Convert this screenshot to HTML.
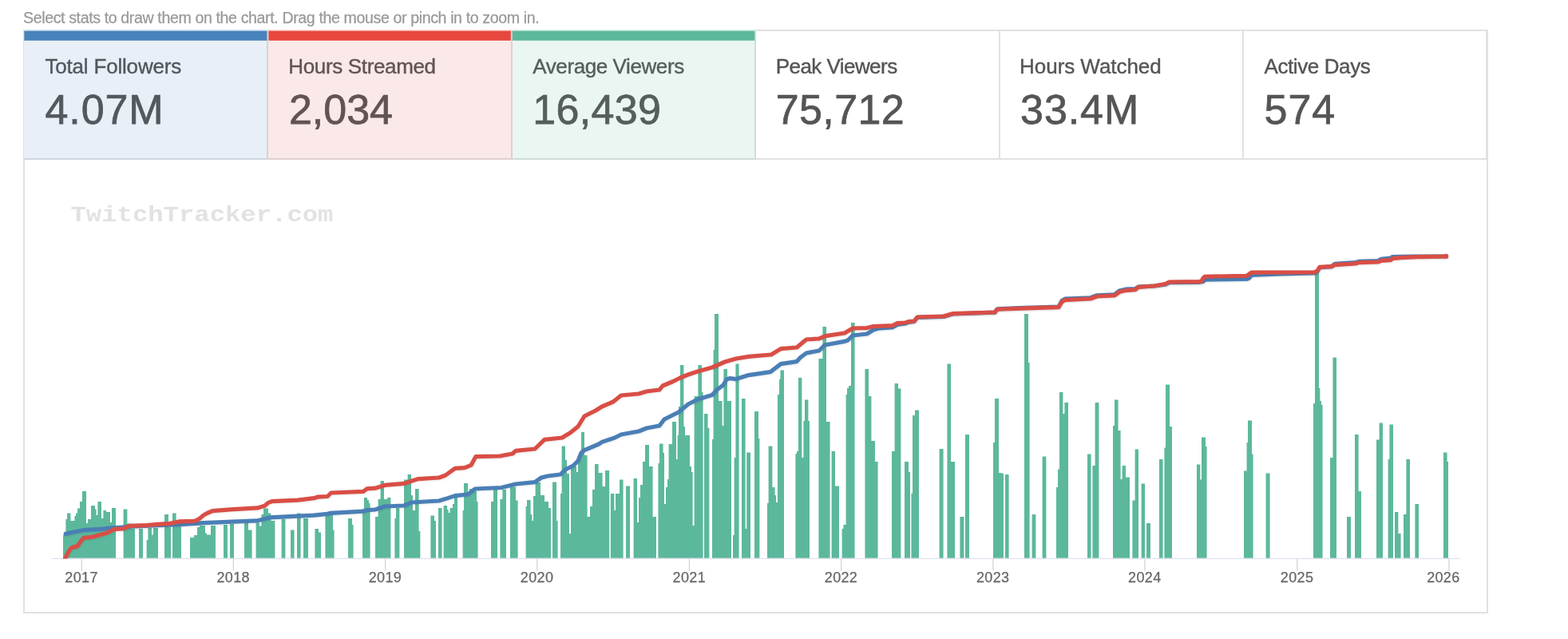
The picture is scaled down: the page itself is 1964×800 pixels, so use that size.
<!DOCTYPE html>
<html lang="en"><head><meta charset="utf-8"><title>Channel stats</title>
<style>
html,body{margin:0;padding:0;background:#fff}
body{width:1964px;height:800px;position:relative;overflow:hidden;font-family:"Liberation Sans",Arial,Helvetica,sans-serif;color:#555}
.hint{position:absolute;left:29px;top:10.2px;font-size:19.6px;line-height:24px;color:#999;white-space:nowrap;letter-spacing:-0.385px;-webkit-text-stroke:0.25px #999}
.panel{position:absolute;left:29px;top:37px;width:1831px;height:727px;border:2px solid #e1e1e1;background:#fff}
.card{position:absolute;top:39px;height:159px;border-right:2px solid #e1e1e1;border-bottom:2px solid #e1e1e1;box-sizing:content-box}
.card.b{background:#e9eff7;border-color:#cfd6de}
.card.r{background:#fbe9e9;border-color:#e0cfcf}
.card.g{background:#eaf6f2;border-color:#cfdcd8}
.lab{position:absolute;left:25.5px;top:28px;font-size:26px;line-height:32px;white-space:nowrap;color:#555;-webkit-text-stroke:0.4px currentColor}
.val{position:absolute;left:25.5px;top:66px;font-size:52px;line-height:64px;white-space:nowrap;color:#555;-webkit-text-stroke:0.75px currentColor}
.card.b .lab,.card.b .val{color:#52585e}
.card.r .lab,.card.r .val{color:#625453}
.card.g .lab,.card.g .val{color:#555e5b}
svg{position:absolute;left:0;top:0}
svg text{font-family:"Liberation Sans",Arial,Helvetica,sans-serif;font-size:18px;fill:#666;letter-spacing:0.35px;stroke:#666;stroke-width:0.25px}
svg text.wm{font-family:"Liberation Mono","DejaVu Sans Mono",monospace;font-weight:bold;font-size:32px;fill:#e2e2e2;letter-spacing:0;stroke:none}
</style></head>
<body>
<div class="hint">Select stats to draw them on the chart. Drag the mouse or pinch in to zoom in.</div>
<div class="panel"></div>
<div class="card b" style="left:30.2px;width:304.2px"><div class="lab" style="letter-spacing:-0.19px;margin-left:0.8px">Total Followers</div><div class="val" style="letter-spacing:0.90px;margin-left:0.8px">4.07M</div></div>
<div class="card r" style="left:336.4px;width:303.4px"><div class="lab" style="letter-spacing:-0.35px;margin-left:-0.6px">Hours Streamed</div><div class="val" style="letter-spacing:0.00px;margin-left:0.0px">2,034</div></div>
<div class="card g" style="left:641.8px;width:303.4px"><div class="lab" style="letter-spacing:-0.41px;margin-left:0.0px">Average Viewers</div><div class="val" style="letter-spacing:0.30px;margin-left:0.0px">16,439</div></div>
<div class="card " style="left:947.2px;width:303.4px"><div class="lab" style="letter-spacing:-0.55px;margin-left:-1.0px">Peak Viewers</div><div class="val" style="letter-spacing:0.40px;margin-left:-1.0px">75,712</div></div>
<div class="card " style="left:1252.6px;width:303.4px"><div class="lab" style="letter-spacing:-0.05px;margin-left:-1.0px">Hours Watched</div><div class="val" style="letter-spacing:0.90px;margin-left:0.0px">33.4M</div></div>
<div class="card " style="left:1558.0px;width:303.4px"><div class="lab" style="letter-spacing:-0.40px;margin-left:0.0px">Active Days</div><div class="val" style="letter-spacing:1.00px;margin-left:0.0px">574</div></div>
<svg width="1964" height="800" viewBox="0 0 1964 800">
<rect x="30.3" y="37" width="304.1" height="2" fill="#d6e4f3"/><rect x="30.3" y="38.7" width="304.1" height="12.1" fill="#4983bb"/><rect x="336.4" y="37" width="303.4" height="2" fill="#fbd7d4"/><rect x="336.4" y="38.7" width="303.4" height="12.1" fill="#e7473f"/><rect x="641.8" y="37" width="303.4" height="2" fill="#d8f0e8"/><rect x="641.8" y="38.7" width="303.4" height="12.1" fill="#5cb89b"/>
<defs><clipPath id="plot"><rect x="60" y="200" width="1780" height="499.6"/></clipPath></defs>
<g transform="translate(88.5 276.5) scale(1.008 0.878)"><text class="wm" x="0" y="0">TwitchTracker.com</text></g>
<path fill="#5cb89c" d="M79.0 698.8V670.0H82.4V698.8ZM82.4 698.8V650.0H84.0V698.8ZM84.0 698.8V642.4H88.4V698.8ZM88.4 698.8V652.0H93.4V698.8ZM93.4 698.8V646.0H95.0V698.8ZM95.0 698.8V642.4H97.0V698.8ZM97.0 698.8V636.4H100.0V698.8ZM100.0 698.8V628.0H103.0V698.8ZM103.0 698.8V615.0H108.0V698.8ZM108.0 698.8V655.0H110.0V698.8ZM110.0 698.8V650.0H114.0V698.8ZM114.0 698.8V633.0H119.0V698.8ZM119.0 698.8V637.6H120.6V698.8ZM120.6 698.8V645.0H122.4V698.8ZM122.4 698.8V628.0H127.0V698.8ZM127.0 698.8V649.0H129.4V698.8ZM129.4 698.8V639.0H133.0V698.8ZM133.0 698.8V641.0H138.0V698.8ZM138.0 698.8V654.0H140.0V698.8ZM140.0 698.8V636.0H145.0V698.8ZM154.6 698.8V637.4H159.4V698.8ZM159.4 698.8V655.4H164.0V698.8ZM164.0 698.8V662.0H169.0V698.8ZM174.0 698.8V662.0H179.0V698.8ZM183.6 698.8V676.0H185.4V698.8ZM185.4 698.8V661.0H190.0V698.8ZM190.0 698.8V669.4H192.0V698.8ZM192.0 698.8V661.0H198.0V698.8ZM206.0 698.8V644.0H211.0V698.8ZM211.0 698.8V660.0H214.0V698.8ZM216.0 698.8V642.4H220.6V698.8ZM220.6 698.8V659.0H227.0V698.8ZM238.0 698.8V673.0H243.0V698.8ZM243.0 698.8V670.0H247.0V698.8ZM247.0 698.8V660.0H250.0V698.8ZM250.0 698.8V658.0H257.0V698.8ZM257.0 698.8V667.4H259.0V698.8ZM259.0 698.8V669.4H264.0V698.8ZM264.0 698.8V658.0H270.0V698.8ZM280.0 698.8V657.0H285.0V698.8ZM288.0 698.8V656.0H293.0V698.8ZM306.0 698.8V655.0H311.0V698.8ZM311.0 698.8V663.4H315.6V698.8ZM320.6 698.8V654.6H325.0V698.8ZM325.0 698.8V658.6H327.4V698.8ZM327.4 698.8V644.0H330.0V698.8ZM330.0 698.8V636.4H336.0V698.8ZM336.0 698.8V642.4H339.4V698.8ZM339.4 698.8V652.0H344.4V698.8ZM352.6 698.8V650.0H357.4V698.8ZM364.0 698.8V663.4H368.6V698.8ZM372.0 698.8V642.4H376.6V698.8ZM380.0 698.8V649.0H386.0V698.8ZM394.4 698.8V662.0H399.0V698.8ZM399.0 698.8V666.6H402.0V698.8ZM407.4 698.8V644.0H417.0V698.8ZM417.0 698.8V663.4H418.6V698.8ZM436.0 698.8V649.0H441.0V698.8ZM441.0 698.8V657.0H442.6V698.8ZM454.0 698.8V637.0H456.0V698.8ZM456.0 698.8V623.0H460.0V698.8ZM460.0 698.8V626.0H462.0V698.8ZM462.0 698.8V630.0H463.6V698.8ZM470.0 698.8V647.0H473.6V698.8ZM473.6 698.8V625.0H476.6V698.8ZM476.6 698.8V602.0H481.0V698.8ZM481.0 698.8V625.0H485.0V698.8ZM485.0 698.8V623.0H489.4V698.8ZM494.4 698.8V649.0H496.0V698.8ZM496.0 698.8V636.0H500.4V698.8ZM506.0 698.8V600.6H510.6V698.8ZM510.6 698.8V594.0H515.0V698.8ZM515.0 698.8V620.0H517.0V698.8ZM517.0 698.8V639.0H520.0V698.8ZM520.0 698.8V612.0H524.6V698.8ZM524.6 698.8V665.0H526.4V698.8ZM539.4 698.8V645.6H544.0V698.8ZM544.0 698.8V652.0H546.0V698.8ZM549.0 698.8V636.0H553.6V698.8ZM555.6 698.8V633.0H560.0V698.8ZM560.0 698.8V638.0H561.6V698.8ZM561.6 698.8V642.0H563.6V698.8ZM563.6 698.8V636.0H567.0V698.8ZM567.0 698.8V631.0H569.0V698.8ZM569.0 698.8V623.0H573.0V698.8ZM579.6 698.8V639.0H581.0V698.8ZM581.0 698.8V605.0H586.0V698.8ZM586.0 698.8V621.0H588.0V698.8ZM588.0 698.8V612.0H592.4V698.8ZM592.4 698.8V615.0H597.0V698.8ZM597.0 698.8V628.0H598.6V698.8ZM615.0 698.8V628.0H618.0V698.8ZM618.0 698.8V613.0H623.0V698.8ZM626.4 698.8V625.0H629.4V698.8ZM629.4 698.8V613.0H634.0V698.8ZM639.0 698.8V609.4H646.0V698.8ZM646.0 698.8V626.6H648.6V698.8ZM658.6 698.8V634.0H660.0V698.8ZM660.0 698.8V626.0H664.6V698.8ZM664.6 698.8V644.0H666.4V698.8ZM666.4 698.8V652.0H668.0V698.8ZM668.0 698.8V621.0H670.6V698.8ZM670.6 698.8V604.0H677.0V698.8ZM677.0 698.8V620.0H682.0V698.8ZM682.0 698.8V628.0H687.0V698.8ZM687.0 698.8V636.0H690.0V698.8ZM692.0 698.8V603.6H697.0V698.8ZM697.0 698.8V652.0H698.6V698.8ZM702.0 698.8V618.0H703.6V698.8ZM703.6 698.8V558.6H708.0V698.8ZM708.0 698.8V576.0H710.0V698.8ZM710.0 698.8V593.0H713.0V698.8ZM713.0 698.8V668.0H715.0V698.8ZM715.0 698.8V584.0H722.0V698.8ZM722.0 698.8V591.0H724.0V698.8ZM724.0 698.8V575.0H728.0V698.8ZM728.0 698.8V541.0H732.0V698.8ZM732.0 698.8V570.0H735.6V698.8ZM735.6 698.8V647.0H739.0V698.8ZM739.0 698.8V634.0H742.0V698.8ZM742.0 698.8V613.0H745.0V698.8ZM745.0 698.8V581.0H749.6V698.8ZM749.6 698.8V592.0H754.6V698.8ZM754.6 698.8V609.0H758.0V698.8ZM758.0 698.8V589.0H763.2V698.8ZM764.8 698.8V618.0H769.4V698.8ZM769.4 698.8V639.0H771.0V698.8ZM771.0 698.8V618.0H776.0V698.8ZM776.0 698.8V600.6H780.6V698.8ZM784.0 698.8V608.6H789.0V698.8ZM793.6 698.8V599.0H798.0V698.8ZM798.0 698.8V654.0H800.0V698.8ZM800.0 698.8V623.0H802.0V698.8ZM802.0 698.8V607.0H805.0V698.8ZM805.0 698.8V578.0H808.0V698.8ZM808.0 698.8V557.0H813.0V698.8ZM813.0 698.8V584.0H817.6V698.8ZM817.6 698.8V647.0H822.0V698.8ZM824.4 698.8V580.0H826.0V698.8ZM826.0 698.8V555.4H830.6V698.8ZM830.6 698.8V567.0H832.0V698.8ZM832.0 698.8V631.0H834.0V698.8ZM834.0 698.8V610.0H836.0V698.8ZM836.0 698.8V600.0H837.6V698.8ZM837.6 698.8V556.0H842.0V698.8ZM842.0 698.8V528.0H847.0V698.8ZM847.0 698.8V575.0H848.6V698.8ZM848.6 698.8V545.0H850.0V698.8ZM850.0 698.8V509.0H852.0V698.8ZM852.0 698.8V457.0H856.4V698.8ZM856.4 698.8V534.0H858.0V698.8ZM858.0 698.8V545.0H862.0V698.8ZM862.0 698.8V545.0H864.0V698.8ZM864.0 698.8V584.0H866.0V698.8ZM866.0 698.8V591.0H867.6V698.8ZM867.6 698.8V658.0H869.6V698.8ZM869.6 698.8V496.0H874.4V698.8ZM874.4 698.8V457.0H879.0V698.8ZM879.0 698.8V491.0H880.6V698.8ZM882.0 698.8V518.0H886.6V698.8ZM886.6 698.8V536.0H888.4V698.8ZM892.0 698.8V550.0H893.6V698.8ZM893.6 698.8V438.0H895.0V698.8ZM895.0 698.8V393.0H900.0V698.8ZM900.0 698.8V502.0H904.6V698.8ZM904.6 698.8V533.0H906.4V698.8ZM906.4 698.8V462.0H911.0V698.8ZM911.0 698.8V502.0H916.0V698.8ZM918.0 698.8V670.0H919.6V698.8ZM919.6 698.8V573.0H921.4V698.8ZM921.4 698.8V455.4H925.6V698.8ZM929.0 698.8V499.0H933.6V698.8ZM933.6 698.8V662.0H935.2V698.8ZM935.2 698.8V566.6H940.0V698.8ZM945.0 698.8V515.0H950.0V698.8ZM950.0 698.8V549.0H951.4V698.8ZM961.0 698.8V630.0H962.6V698.8ZM962.6 698.8V558.6H967.4V698.8ZM967.4 698.8V610.0H970.6V698.8ZM970.6 698.8V620.0H972.0V698.8ZM972.0 698.8V629.0H974.0V698.8ZM974.0 698.8V494.0H976.0V698.8ZM976.0 698.8V475.0H977.4V698.8ZM977.4 698.8V463.6H982.0V698.8ZM996.4 698.8V568.0H998.0V698.8ZM998.0 698.8V565.0H1000.0V698.8ZM1000.0 698.8V473.0H1004.4V698.8ZM1004.4 698.8V573.0H1006.4V698.8ZM1006.4 698.8V527.0H1008.0V698.8ZM1008.0 698.8V500.6H1012.4V698.8ZM1012.4 698.8V527.0H1014.0V698.8ZM1025.4 698.8V449.0H1030.4V698.8ZM1030.4 698.8V409.0H1035.0V698.8ZM1035.0 698.8V528.0H1039.6V698.8ZM1041.6 698.8V565.0H1046.0V698.8ZM1046.0 698.8V608.6H1051.0V698.8ZM1054.6 698.8V662.0H1056.4V698.8ZM1056.4 698.8V657.0H1059.6V698.8ZM1059.6 698.8V494.0H1061.0V698.8ZM1061.0 698.8V486.0H1063.0V698.8ZM1063.0 698.8V483.0H1066.0V698.8ZM1066.0 698.8V404.0H1070.6V698.8ZM1083.4 698.8V462.0H1088.0V698.8ZM1088.0 698.8V496.0H1091.4V698.8ZM1091.4 698.8V552.0H1096.0V698.8ZM1096.0 698.8V578.0H1099.6V698.8ZM1117.0 698.8V565.0H1120.6V698.8ZM1120.6 698.8V480.0H1125.0V698.8ZM1125.0 698.8V486.6H1128.4V698.8ZM1133.0 698.8V578.0H1138.0V698.8ZM1138.0 698.8V591.0H1140.0V698.8ZM1141.4 698.8V618.0H1143.0V698.8ZM1143.0 698.8V520.0H1146.0V698.8ZM1146.0 698.8V513.6H1151.0V698.8ZM1176.6 698.8V562.0H1181.6V698.8ZM1186.4 698.8V455.6H1191.0V698.8ZM1191.0 698.8V578.0H1196.0V698.8ZM1202.4 698.8V647.0H1207.4V698.8ZM1209.0 698.8V544.0H1214.0V698.8ZM1244.0 698.8V554.0H1246.0V698.8ZM1246.0 698.8V499.0H1251.0V698.8ZM1251.0 698.8V592.0H1254.0V698.8ZM1254.0 698.8V592.4H1257.0V698.8ZM1259.0 698.8V594.0H1263.6V698.8ZM1283.0 698.8V393.0H1288.0V698.8ZM1288.0 698.8V454.0H1289.6V698.8ZM1292.6 698.8V644.0H1297.4V698.8ZM1305.6 698.8V571.4H1310.4V698.8ZM1323.0 698.8V610.0H1325.0V698.8ZM1325.0 698.8V587.6H1327.0V698.8ZM1327.0 698.8V491.0H1331.4V698.8ZM1331.4 698.8V518.0H1333.4V698.8ZM1333.4 698.8V504.0H1338.0V698.8ZM1362.0 698.8V568.4H1366.6V698.8ZM1368.4 698.8V583.0H1371.6V698.8ZM1371.6 698.8V504.0H1376.4V698.8ZM1394.0 698.8V533.0H1396.0V698.8ZM1396.0 698.8V500.6H1400.6V698.8ZM1400.6 698.8V539.0H1403.6V698.8ZM1403.6 698.8V600.0H1405.6V698.8ZM1405.6 698.8V583.0H1410.0V698.8ZM1410.0 698.8V597.4H1415.0V698.8ZM1418.4 698.8V626.4H1421.6V698.8ZM1421.6 698.8V562.4H1426.0V698.8ZM1429.6 698.8V605.4H1434.0V698.8ZM1436.0 698.8V655.0H1441.0V698.8ZM1452.0 698.8V575.0H1456.6V698.8ZM1458.4 698.8V560.6H1460.0V698.8ZM1460.0 698.8V481.4H1465.0V698.8ZM1465.0 698.8V534.0H1468.0V698.8ZM1499.0 698.8V581.4H1503.4V698.8ZM1503.4 698.8V600.6H1505.0V698.8ZM1505.0 698.8V547.4H1510.0V698.8ZM1510.0 698.8V559.0H1511.6V698.8ZM1558.0 698.8V589.4H1561.6V698.8ZM1561.6 698.8V554.0H1563.0V698.8ZM1563.0 698.8V526.4H1568.0V698.8ZM1568.0 698.8V568.6H1569.6V698.8ZM1585.6 698.8V592.4H1590.6V698.8ZM1645.0 698.8V505.0H1647.0V698.8ZM1647.0 698.8V342.0H1652.0V698.8ZM1652.0 698.8V486.0H1653.4V698.8ZM1653.4 698.8V502.0H1655.0V698.8ZM1655.0 698.8V507.0H1656.6V698.8ZM1666.0 698.8V573.0H1669.4V698.8ZM1669.4 698.8V447.6H1674.0V698.8ZM1687.0 698.8V647.0H1692.0V698.8ZM1697.0 698.8V544.0H1701.6V698.8ZM1701.6 698.8V615.0H1705.0V698.8ZM1724.0 698.8V550.6H1727.6V698.8ZM1727.6 698.8V529.6H1732.0V698.8ZM1738.6 698.8V575.0H1740.4V698.8ZM1740.4 698.8V531.4H1745.0V698.8ZM1747.0 698.8V641.0H1751.4V698.8ZM1751.4 698.8V668.0H1754.6V698.8ZM1758.0 698.8V644.0H1761.4V698.8ZM1761.4 698.8V575.0H1766.0V698.8ZM1772.4 698.8V631.0H1777.0V698.8ZM1808.0 698.8V566.6H1812.6V698.8ZM1812.6 698.8V578.0H1814.0V698.8Z"/>
<path d="M64.5 699.3H1828.7" stroke="#d9daea" stroke-width="1" fill="none"/>
<path d="M102.3 699.5V714.7" stroke="#d3d3d9" stroke-width="1.3"/><path d="M292.4 699.5V714.7" stroke="#d3d3d9" stroke-width="1.3"/><path d="M482.6 699.5V714.7" stroke="#d3d3d9" stroke-width="1.3"/><path d="M672.8 699.5V714.7" stroke="#d3d3d9" stroke-width="1.3"/><path d="M863.5 699.5V714.7" stroke="#d3d3d9" stroke-width="1.3"/><path d="M1053.7 699.5V714.7" stroke="#d3d3d9" stroke-width="1.3"/><path d="M1243.9 699.5V714.7" stroke="#d3d3d9" stroke-width="1.3"/><path d="M1434.0 699.5V714.7" stroke="#d3d3d9" stroke-width="1.3"/><path d="M1624.8 699.5V714.7" stroke="#d3d3d9" stroke-width="1.3"/><path d="M1815.0 699.5V714.7" stroke="#d3d3d9" stroke-width="1.3"/>
<g clip-path="url(#plot)"><path fill="none" stroke="#000" stroke-opacity="0.045" stroke-width="7.6" stroke-linejoin="round" stroke-linecap="round" transform="translate(0.6 0.8)" d="M82.2 668.4L104.1 663.7L126.9 662.3L139.9 660.9L150.0 660.3L156.2 659.8L164.0 659.1L197.5 657.6L225.0 656.6L246.0 655.4L255.0 654.7L322.5 651.9L327.0 650.7L338.2 647.9L373.1 646.2L393.4 645.1L410.2 643.4L414.7 642.3L455.2 640.1L460.9 638.6L470.0 638.0L482.0 634.0L506.0 633.0L516.0 629.0L550.0 627.0L558.0 624.6L570.0 620.6L586.0 619.0L595.0 612.0L628.0 610.5L646.0 606.0L670.0 603.6L678.0 598.0L686.0 596.0L702.0 594.0L708.0 588.0L718.0 583.0L724.0 577.0L728.0 567.0L732.0 563.6L750.0 556.0L754.0 553.4L770.0 548.0L778.0 544.0L800.0 540.0L810.0 536.0L826.0 533.0L832.0 525.0L850.0 516.0L862.0 506.0L874.0 500.0L892.0 494.6L898.0 488.0L906.0 482.0L910.0 475.0L914.0 473.6L922.0 474.6L938.0 469.6L965.0 465.6L978.0 455.6L998.0 452.6L1002.0 448.0L1010.0 442.0L1026.0 439.0L1033.0 432.0L1058.0 427.4L1062.0 426.0L1068.0 420.0L1086.0 418.0L1094.0 413.0L1100.0 411.2L1118.0 409.8L1124.0 406.4L1134.0 405.0L1138.0 403.4L1145.0 402.4L1149.0 397.4L1182.0 396.4L1190.0 394.0L1194.0 393.0L1246.0 391.2L1249.0 387.0L1254.0 386.6L1294.0 385.0L1326.0 384.0L1330.0 376.6L1334.0 374.2L1366.0 372.8L1374.0 369.8L1396.0 368.8L1402.0 364.0L1410.0 362.2L1422.0 361.6L1426.0 359.0L1446.0 358.0L1459.7 356.2L1464.5 353.7L1502.2 353.3L1506.6 352.6L1510.0 350.1L1561.2 349.5L1564.6 348.2L1568.0 344.3L1604.7 342.9L1646.0 342.0L1650.0 340.0L1653.0 335.0L1668.0 333.6L1672.0 330.4L1698.0 328.6L1702.0 327.4L1726.0 326.6L1730.0 324.4L1742.0 323.0L1744.0 321.6L1754.0 321.4L1774.0 321.0L1811.0 321.0"/><path fill="none" stroke="#4a7fb6" stroke-width="5.2" stroke-linejoin="round" stroke-linecap="round" d="M82.2 668.4L104.1 663.7L126.9 662.3L139.9 660.9L150.0 660.3L156.2 659.8L164.0 659.1L197.5 657.6L225.0 656.6L246.0 655.4L255.0 654.7L322.5 651.9L327.0 650.7L338.2 647.9L373.1 646.2L393.4 645.1L410.2 643.4L414.7 642.3L455.2 640.1L460.9 638.6L470.0 638.0L482.0 634.0L506.0 633.0L516.0 629.0L550.0 627.0L558.0 624.6L570.0 620.6L586.0 619.0L595.0 612.0L628.0 610.5L646.0 606.0L670.0 603.6L678.0 598.0L686.0 596.0L702.0 594.0L708.0 588.0L718.0 583.0L724.0 577.0L728.0 567.0L732.0 563.6L750.0 556.0L754.0 553.4L770.0 548.0L778.0 544.0L800.0 540.0L810.0 536.0L826.0 533.0L832.0 525.0L850.0 516.0L862.0 506.0L874.0 500.0L892.0 494.6L898.0 488.0L906.0 482.0L910.0 475.0L914.0 473.6L922.0 474.6L938.0 469.6L965.0 465.6L978.0 455.6L998.0 452.6L1002.0 448.0L1010.0 442.0L1026.0 439.0L1033.0 432.0L1058.0 427.4L1062.0 426.0L1068.0 420.0L1086.0 418.0L1094.0 413.0L1100.0 411.2L1118.0 409.8L1124.0 406.4L1134.0 405.0L1138.0 403.4L1145.0 402.4L1149.0 397.4L1182.0 396.4L1190.0 394.0L1194.0 393.0L1246.0 391.2L1249.0 387.0L1254.0 386.6L1294.0 385.0L1326.0 384.0L1330.0 376.6L1334.0 374.2L1366.0 372.8L1374.0 369.8L1396.0 368.8L1402.0 364.0L1410.0 362.2L1422.0 361.6L1426.0 359.0L1446.0 358.0L1459.7 356.2L1464.5 353.7L1502.2 353.3L1506.6 352.6L1510.0 350.1L1561.2 349.5L1564.6 348.2L1568.0 344.3L1604.7 342.9L1646.0 342.0L1650.0 340.0L1653.0 335.0L1668.0 333.6L1672.0 330.4L1698.0 328.6L1702.0 327.4L1726.0 326.6L1730.0 324.4L1742.0 323.0L1744.0 321.6L1754.0 321.4L1774.0 321.0L1811.0 321.0"/></g>
<g clip-path="url(#plot)"><path fill="none" stroke="#000" stroke-opacity="0.045" stroke-width="7.6" stroke-linejoin="round" stroke-linecap="round" transform="translate(0.6 0.8)" d="M81.4 700.0L82.2 698.1L85.2 692.0L88.2 687.1L91.1 685.1L96.8 683.9L100.9 678.2L104.9 673.3L115.5 672.3L126.9 669.2L135.0 666.8L140.7 663.8L144.7 662.3L154.8 661.9L161.7 658.4L183.7 657.7L197.5 656.4L211.2 655.7L225.0 652.9L244.2 652.4L249.7 649.5L255.0 645.0L259.5 642.5L266.2 639.6L288.7 637.8L322.5 635.9L331.5 633.3L336.0 629.4L340.5 627.7L373.1 626.2L393.4 623.7L397.9 622.1L410.2 621.5L414.7 617.0L455.2 615.3L459.7 611.9L470.0 611.2L482.0 607.4L506.0 605.4L516.0 602.0L524.0 599.6L550.0 598.0L558.0 595.0L570.0 586.4L582.0 585.6L590.0 582.4L596.0 571.6L626.0 571.0L642.0 568.0L646.0 564.4L670.0 562.0L682.0 550.4L704.0 548.0L714.0 542.0L724.0 534.0L732.0 521.0L746.0 514.0L754.0 509.0L768.0 503.0L778.0 495.0L800.0 493.0L810.0 490.0L826.0 488.0L830.0 483.0L842.0 478.0L852.0 473.0L862.0 469.0L874.0 465.0L892.0 460.0L908.0 453.0L922.0 449.0L938.0 446.4L966.0 444.0L978.0 436.6L998.0 435.0L1010.0 425.0L1026.0 424.0L1034.0 420.6L1058.0 417.0L1068.0 411.0L1086.0 410.6L1094.0 408.6L1118.0 407.6L1124.0 404.6L1134.0 404.0L1138.0 402.6L1145.0 402.0L1149.0 397.0L1182.0 396.0L1190.0 393.6L1194.0 392.6L1246.0 391.0L1249.0 387.4L1254.0 387.0L1294.0 385.6L1326.0 384.6L1330.0 378.0L1334.0 375.6L1366.0 374.0L1374.0 371.0L1396.0 370.0L1402.0 365.6L1410.0 363.6L1422.0 362.6L1426.0 359.4L1446.0 358.0L1459.7 355.5L1464.5 353.0L1502.2 352.6L1505.1 352.1L1506.6 348.7L1509.0 346.3L1561.2 345.3L1563.6 343.9L1567.5 341.1L1646.0 341.0L1650.0 339.0L1653.0 334.4L1668.0 333.6L1672.0 331.6L1698.0 330.0L1702.0 328.6L1726.0 328.0L1730.0 326.4L1742.0 325.6L1744.0 323.6L1754.0 322.6L1774.0 321.6L1811.0 321.0"/><path fill="none" stroke="#d94e46" stroke-width="5.2" stroke-linejoin="round" stroke-linecap="round" d="M81.4 700.0L82.2 698.1L85.2 692.0L88.2 687.1L91.1 685.1L96.8 683.9L100.9 678.2L104.9 673.3L115.5 672.3L126.9 669.2L135.0 666.8L140.7 663.8L144.7 662.3L154.8 661.9L161.7 658.4L183.7 657.7L197.5 656.4L211.2 655.7L225.0 652.9L244.2 652.4L249.7 649.5L255.0 645.0L259.5 642.5L266.2 639.6L288.7 637.8L322.5 635.9L331.5 633.3L336.0 629.4L340.5 627.7L373.1 626.2L393.4 623.7L397.9 622.1L410.2 621.5L414.7 617.0L455.2 615.3L459.7 611.9L470.0 611.2L482.0 607.4L506.0 605.4L516.0 602.0L524.0 599.6L550.0 598.0L558.0 595.0L570.0 586.4L582.0 585.6L590.0 582.4L596.0 571.6L626.0 571.0L642.0 568.0L646.0 564.4L670.0 562.0L682.0 550.4L704.0 548.0L714.0 542.0L724.0 534.0L732.0 521.0L746.0 514.0L754.0 509.0L768.0 503.0L778.0 495.0L800.0 493.0L810.0 490.0L826.0 488.0L830.0 483.0L842.0 478.0L852.0 473.0L862.0 469.0L874.0 465.0L892.0 460.0L908.0 453.0L922.0 449.0L938.0 446.4L966.0 444.0L978.0 436.6L998.0 435.0L1010.0 425.0L1026.0 424.0L1034.0 420.6L1058.0 417.0L1068.0 411.0L1086.0 410.6L1094.0 408.6L1118.0 407.6L1124.0 404.6L1134.0 404.0L1138.0 402.6L1145.0 402.0L1149.0 397.0L1182.0 396.0L1190.0 393.6L1194.0 392.6L1246.0 391.0L1249.0 387.4L1254.0 387.0L1294.0 385.6L1326.0 384.6L1330.0 378.0L1334.0 375.6L1366.0 374.0L1374.0 371.0L1396.0 370.0L1402.0 365.6L1410.0 363.6L1422.0 362.6L1426.0 359.4L1446.0 358.0L1459.7 355.5L1464.5 353.0L1502.2 352.6L1505.1 352.1L1506.6 348.7L1509.0 346.3L1561.2 345.3L1563.6 343.9L1567.5 341.1L1646.0 341.0L1650.0 339.0L1653.0 334.4L1668.0 333.6L1672.0 331.6L1698.0 330.0L1702.0 328.6L1726.0 328.0L1730.0 326.4L1742.0 325.6L1744.0 323.6L1754.0 322.6L1774.0 321.6L1811.0 321.0"/></g>
<circle cx="1811.2" cy="320.8" r="3" fill="#d94e46"/>
<text x="102.1" y="729.2" text-anchor="middle">2017</text><text x="292.2" y="729.2" text-anchor="middle">2018</text><text x="482.4" y="729.2" text-anchor="middle">2019</text><text x="672.6" y="729.2" text-anchor="middle">2020</text><text x="863.3" y="729.2" text-anchor="middle">2021</text><text x="1053.5" y="729.2" text-anchor="middle">2022</text><text x="1243.7" y="729.2" text-anchor="middle">2023</text><text x="1433.8" y="729.2" text-anchor="middle">2024</text><text x="1624.6" y="729.2" text-anchor="middle">2025</text><text x="1828.6" y="729.2" text-anchor="end">2026</text>
</svg>
</body></html>
